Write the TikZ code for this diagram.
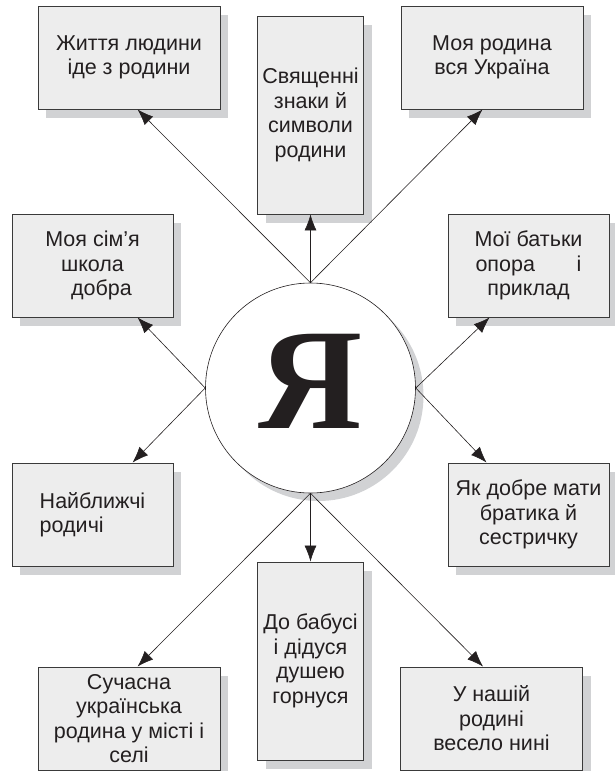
\documentclass[tikz,border=0pt]{standalone}
\usepackage{fontspec}
\setmainfont{Liberation Sans}
\newfontfamily\yafont{Liberation Serif}
\usetikzlibrary{shadows,arrows.meta}
\definecolor{boxfill}{HTML}{EDEDED}
\definecolor{shadowgray}{HTML}{D1D2D4}
\definecolor{edge}{HTML}{3A3A3A}
\definecolor{ink}{HTML}{231F20}
\tikzset{
  topic/.style={draw=edge, line width=0.9pt, fill=boxfill, text=ink,
    align=center, inner sep=0pt,
    font=\fontsize{21.5}{24.5}\selectfont,
    general shadow={fill=shadowgray, shadow xshift=8pt, shadow yshift=-9pt}},
  widebox/.style={topic, minimum width=182pt, minimum height=103pt},
  sidebox/.style={topic, minimum width=161pt, minimum height=103pt},
  tallbox/.style={topic, minimum width=106pt, minimum height=198pt},
  hub/.style={circle, draw=ink, line width=0.6pt, fill=white, minimum size=210pt, inner sep=0pt,
    general shadow={fill=shadowgray, shadow xshift=8pt, shadow yshift=-8pt}},
  arr/.style={draw=ink, line width=0.6pt, -{Latex[length=16pt,width=12pt]}}
}
\begin{document}
\begin{tikzpicture}[x=1pt,y=-1pt]
\useasboundingbox (0,0) rectangle (615,771);
\node[widebox] (b1) at (129,57.5) {Життя людини\\іде з родини};
\node[tallbox] (b2) at (310.5,115) {Священні\\знаки й\\символи\\родини};
\node[widebox] (b3) at (492,57.5) {Моя родина\\вся Україна};
\node[sidebox] (b4) at (92.5,265.5) {Моя сім\symbol{"27}я\\школа\\\hspace*{18pt}добра};
\node[sidebox] (b5) at (528.5,265.5) {Мої батьки\\\makebox[106pt]{опора\hfill і}\\приклад};
\node[sidebox] (b6) at (528.5,514.5) {Як добре мати\\братика й\\сестричку};
\node[sidebox, align=left] (b7) at (92.5,514.5) {Найближчі\\родичі};
\node[widebox] (b8) at (129,718.5) {Сучасна\\українська\\родина у місті і\\селі};
\node[tallbox] (b10) at (310.5,661) {До бабусі\\і дідуся\\душею\\горнуся};
\node[widebox] (b9) at (491.5,718.5) {У нашій\\родині\\весело нині};
\node[hub] (me) at (310.5,388) {};
\node[font=\yafont\bfseries\fontsize{144}{144}\selectfont, text=ink, inner sep=0pt] (ya) at (310,381) {Я};
\draw[arr] (me.north) -- ([xshift=100pt]b1.south west);
\draw[arr] (me.north) -- (b2.south);
\draw[arr] (me.north) -- ([xshift=82pt]b3.south west);
\draw[arr] (me.west) -- ([xshift=126pt]b4.south west);
\draw[arr] (me.west) -- ([xshift=121pt]b7.north west);
\draw[arr] (me.east) -- ([xshift=42pt]b5.south west);
\draw[arr] (me.east) -- ([xshift=39pt]b6.north west);
\draw[arr] (me.south) -- ([xshift=100pt]b8.north west);
\draw[arr] (me.south) -- (b10.north);
\draw[arr] (me.south) -- ([xshift=83pt]b9.north west);
\end{tikzpicture}
\end{document}
